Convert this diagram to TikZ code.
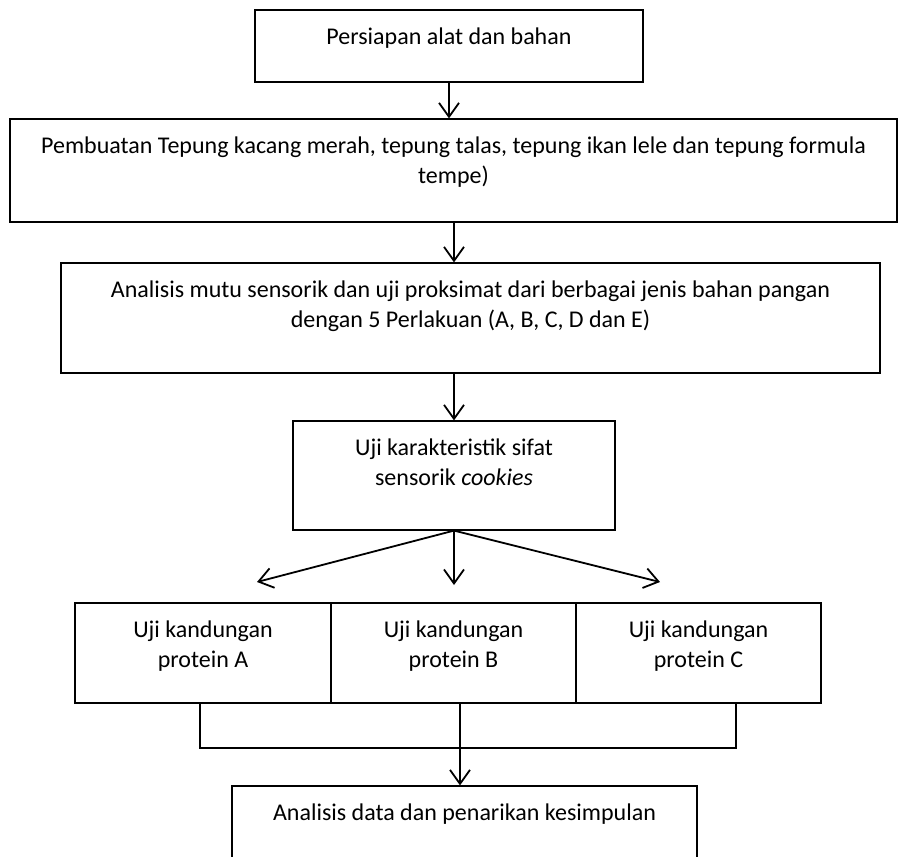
\documentclass[tikz,border=0pt]{standalone}
\usepackage{fontspec}
\setmainfont{Carlito}
\usetikzlibrary{arrows.meta}

\newcommand\flowtext[3]{\parbox[c][#2][t]{#1}{\centering\rule{0pt}{17pt}#3}}
\tikzset{
  flowbox/.style={draw, inner sep=0pt, line width=0.6pt,
                  font=\fontsize{12pt}{15pt}\selectfont},
  flowarrow/.style={-{Straight Barb[length=7pt,width=10pt]}, line width=0.9pt},
}

\begin{document}
\begin{tikzpicture}[x=0.5pt, y=-0.5pt]
  \useasboundingbox (0,0) rectangle (900,857);
  \clip (0,0) rectangle (900,857);
  \path node (prep)  at (449,46)    [flowbox] {\flowtext{194pt}{36pt}{Persiapan alat dan bahan}}
        node (flour) at (453.5,170.5) [flowbox] {\flowtext{443.5pt}{51.5pt}{Pembuatan Tepung kacang merah, tepung talas, tepung ikan lele dan tepung formula\\ tempe)}}
        node (sens)  at (470.5,318) [flowbox] {\flowtext{409.5pt}{55pt}{Analisis mutu sensorik dan uji proksimat dari berbagai jenis bahan pangan\\ dengan 5 Perlakuan (A, B, C, D dan E)}}
        node (cook)  at (454,475.5) [flowbox] {\flowtext{161pt}{54.5pt}{Uji karakteristik sifat\\ sensorik \textit{cookies}}}
        %
        node (protA) at (203,653)   [flowbox] {\flowtext{128pt}{50pt}{Uji kandungan\\ protein A}}
        node (protB) at (453.5,653) [flowbox] {\flowtext{122.5pt}{50pt}{Uji kandungan\\ protein B}}
        node (protC) at (698.5,653) [flowbox] {\flowtext{122.5pt}{50pt}{Uji kandungan\\ protein C}}
        %
        node (concl) at (464.5,828) [flowbox] {\flowtext{232.5pt}{42pt}{Analisis data dan penarikan kesimpulan}};
  \coordinate (tipA) at (257,582);
  \coordinate (tipB) at (454,585);
  \coordinate (tipC) at (660,582);
  \coordinate (joinA) at (200,748);
  \coordinate (joinB) at (460,748);
  \coordinate (joinC) at (736,748);
  \draw[flowarrow] (prep.south) -- (prep.south |- flour.north);
  \draw[flowarrow] (cook.north |- flour.south) -- (cook.north |- sens.north);
  \draw[flowarrow] (cook.north |- sens.south) -- (cook.north);
  \draw[flowarrow] (cook.south) -- (tipA);
  \draw[flowarrow] (cook.south) -- (tipB);
  \draw[flowarrow] (cook.south) -- (tipC);
  \draw[line width=0.9pt] (protA.south -| joinA) -- (joinA) -- (joinC) -- (protC.south -| joinC)
        (protB.south -| joinB) -- (joinB);
  \draw[flowarrow] (joinB) -- (joinB |- concl.north);
\end{tikzpicture}
\end{document}
